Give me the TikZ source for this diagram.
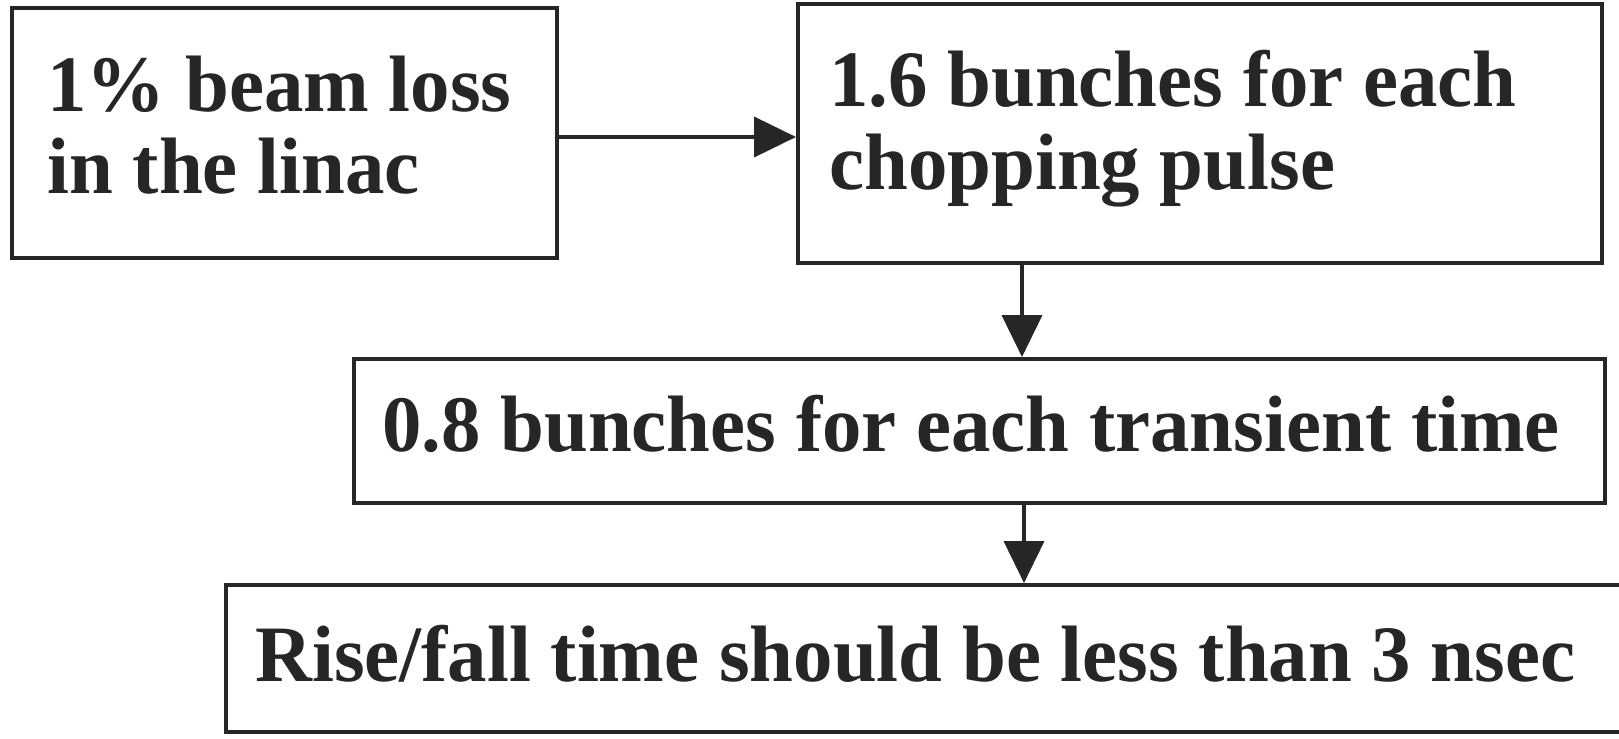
\documentclass[tikz,border=0pt]{standalone}
\usepackage{fontspec}
\setmainfont[FakeStretch=0.985]{Liberation Serif}
\usetikzlibrary{arrows.meta}
\definecolor{ink}{RGB}{38,38,38}
\begin{document}
\begin{tikzpicture}[x=0.5pt,y=-0.5pt,
  box/.style={draw=ink,line width=2pt,inner sep=0pt,fill=none},
  lbl/.style={anchor=base west,inner sep=0pt,text=ink,font=\fontsize{40}{41}\selectfont\bfseries},
  arr/.style={draw=ink,line width=2pt,-{Triangle[length=21pt,width=20pt]}}]
\useasboundingbox[fill=white] (0,0) rectangle (1619,739);
% boxes
\node[box,minimum width=545*0.5pt,minimum height=250*0.5pt] (b1) at (284.5,133) {};
\node[box,minimum width=804*0.5pt,minimum height=259*0.5pt] (b2) at (1200,133.5) {};
\node[box,minimum width=1251*0.5pt,minimum height=144*0.5pt] (b3) at (979.5,431) {};
\node[box,minimum width=1414*0.5pt,minimum height=147*0.5pt] (b4) at (933,658.5) {};
% texts
\node[lbl] (t1a) at (47,111) {1\% beam loss};
\node[lbl] (t1b) at (47,193) {in the linac};
\node[lbl] (t2a) at (829,106) {1.6 bunches for each};
\node[lbl] (t2b) at (829,189) {chopping pulse};
\node[lbl] (t3) at (382,451) {0.8 bunches for each transient time};
\node[lbl] (t4) at (255,681) {Rise/fall time should be less than 3 nsec};
% connectors
\coordinate (a1y) at (0,137);
\coordinate (a2x) at (1022,0);
\coordinate (a3x) at (1024,0);
\draw[arr] (b1.east |- a1y) -- (b2.west |- a1y);
\draw[arr] (b2.south -| a2x) -- (b3.north -| a2x);
\draw[arr] (b3.south -| a3x) -- (b4.north -| a3x);
\end{tikzpicture}
\end{document}
